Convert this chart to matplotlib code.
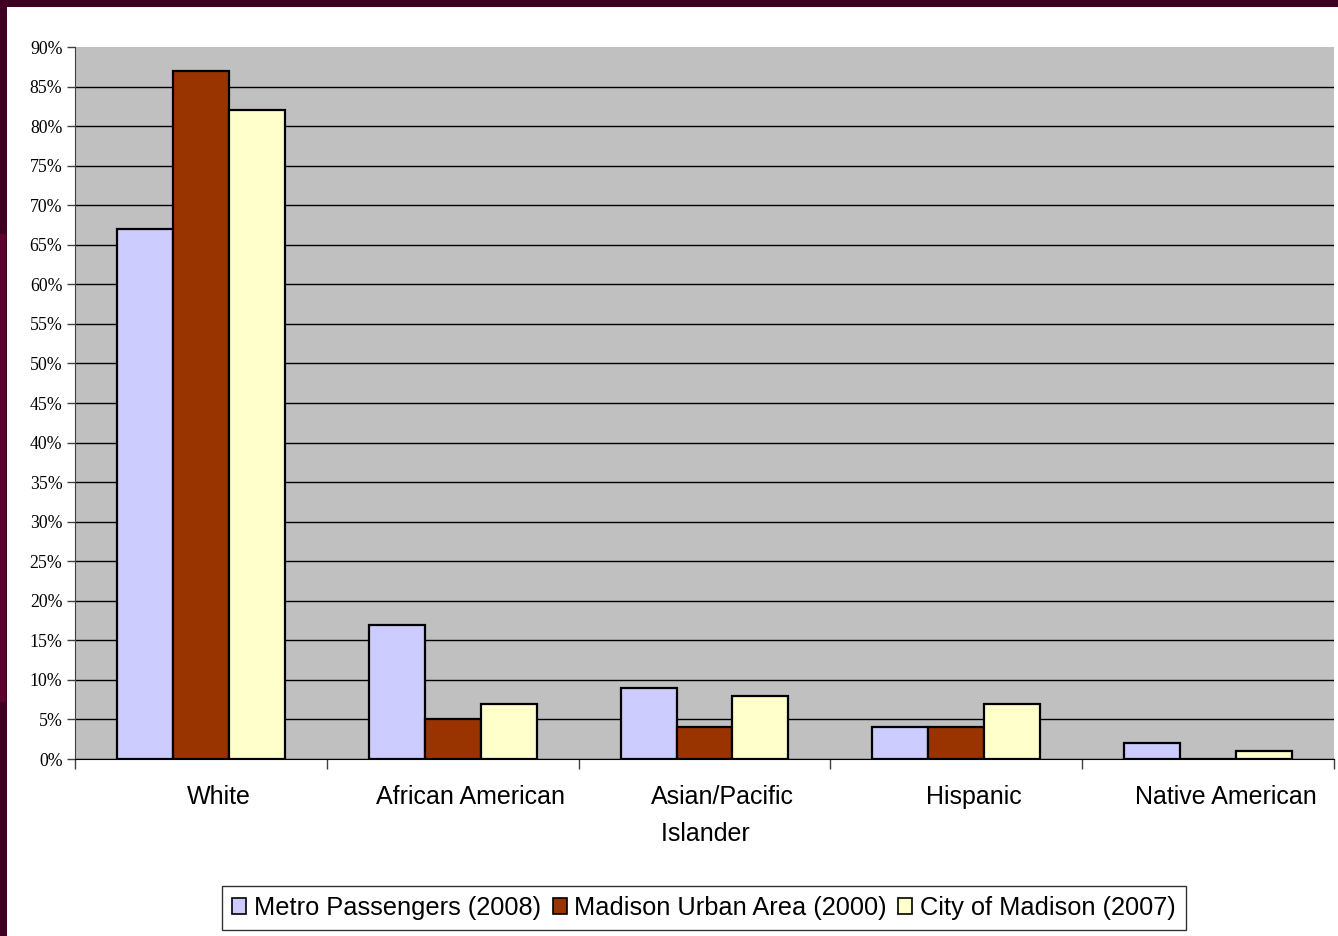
import numpy as np
import matplotlib.pyplot as plt
import matplotlib
from matplotlib.patches import Rectangle
from matplotlib.transforms import ScaledTranslation

categories = ['White', 'African American', 'Asian/Pacific\nIslander' + '\u00a0' * 5,
              'Hispanic', 'Native American']
series_names = ['Metro Passengers (2008)', 'Madison Urban Area (2000)', 'City of Madison (2007)']
metro = [67, 17, 9, 4, 2]
urban = [87, 5, 4, 4, 0]
city = [82, 7, 8, 7, 1]
y_ticks = list(range(0, 95, 5))

colors_bar = ['#CCCCFF', '#993300', '#FFFFCC']

fig = plt.figure(figsize=(13.38, 9.36), dpi=100)
fig.patch.set_facecolor('white')

# dark frame along top and left edges
fig.add_artist(Rectangle((0, 1 - 7 / 936), 1, 7 / 936, transform=fig.transFigure,
                         facecolor='#3d0022', edgecolor='none', zorder=0))
fig.add_artist(Rectangle((0, 0), 7 / 1338, 1, transform=fig.transFigure,
                         facecolor='#3d0022', edgecolor='none', zorder=0))
fig.add_artist(Rectangle((0, 0.25), 6 / 1338, 0.5, transform=fig.transFigure,
                         facecolor='#5e0030', edgecolor='none', zorder=0))

ax = fig.add_axes([75 / 1338, (936 - 759) / 936, (1334 - 75) / 1338, (759 - 47) / 936])
ax.set_facecolor('#C0C0C0')

x = np.arange(len(categories))
w = 1 / 4.5
for i, (vals, c) in enumerate(zip([metro, urban, city], colors_bar)):
    ax.bar(x + (i - 1) * w, vals, width=w, color=c, edgecolor='black',
           linewidth=1.6, label=series_names[i], zorder=3)

ax.set_xlim(-0.5, len(categories) - 0.5)
ax.set_ylim(0, 90)
ax.set_yticks(y_ticks)
ax.set_yticklabels([f'{t}%' for t in y_ticks], family='Liberation Serif', fontsize=12.8)
ax.yaxis.grid(True, color='black', linewidth=1.0, zorder=1)
ax.get_ygridlines()[-1].set_visible(False)
ax.set_axisbelow(True)
ax.tick_params(axis='y', direction='out', length=6, width=1, color='#404040', pad=3)

ax.set_xticks(np.arange(len(categories) + 1) - 0.5)
ax.set_xticklabels([])
ax.tick_params(axis='x', which='major', direction='out', length=7, width=1, color='#404040')
ax.set_xticks(x, minor=True)
ax.set_xticklabels(categories, minor=True, family='Liberation Sans', fontsize=18,
                   linespacing=1.65)
ax.tick_params(axis='x', which='minor', length=0, pad=19)
shift = ScaledTranslation(18 / 100, 0, fig.dpi_scale_trans)
for lab in ax.get_xticklabels(minor=True):
    lab.set_verticalalignment('top')
    lab.set_transform(lab.get_transform() + shift)

for s in ['top', 'right']:
    ax.spines[s].set_visible(False)
ax.spines['left'].set_color('#404040')
ax.spines['bottom'].set_color('black')

leg = fig.legend(loc='center', bbox_to_anchor=(704 / 1338, 1 - 908 / 936), ncol=3,
                 frameon=True, fancybox=False, edgecolor='black',
                 prop={'family': 'Liberation Sans', 'size': 18.3},
                 handlelength=0.55, handleheight=0.55, handletextpad=0.3,
                 columnspacing=0.45, borderpad=0.4, borderaxespad=0)
leg.get_frame().set_linewidth(1.0)
for h in leg.legend_handles:
    h.set_linewidth(1.2)

fig.savefig('out.png', dpi=100)
